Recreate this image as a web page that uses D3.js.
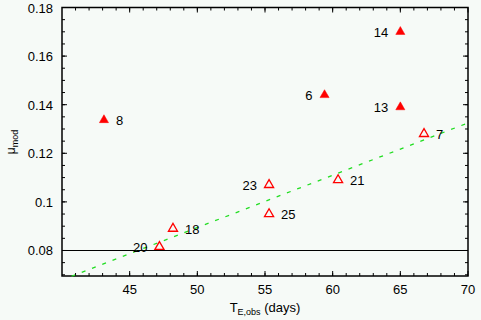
<!DOCTYPE html>
<html>
<head>
<meta charset="utf-8">
<script src="https://cdn.jsdelivr.net/npm/d3@7"></script>
<style>
  body { margin: 0; background: #f6faf7; }
  svg { display: block; font-family: "Liberation Sans", Arial, sans-serif; }
</style>
</head>
<body>
<svg width="481" height="320"></svg>
<script>
// event numbers and values
var filledIds = ['8', '14', '6', '13'];
var filledX   = [43.1, 65.0, 59.4, 65.0];
var filledY   = [0.1337, 0.170, 0.144, 0.139];

var openIds = ['7', '21', '23', '25', '18', '20'];
var openX   = [66.75, 60.4, 55.3, 55.3, 48.2, 47.2];
var openY   = [0.128, 0.109, 0.107, 0.095, 0.089, 0.0815];

// label on which side of the marker
var filledSide = ['right', 'left', 'left', 'left'];
var openSide   = ['right', 'right', 'left', 'right', 'right', 'left'];

// dashed fit line end points and the horizontal reference level
var fitX = [40.7, 70];
var fitY = [0.0694, 0.1325];
var refLevel = 0.08;

var xTicks = [45, 50, 55, 60, 65, 70];
var yTicks = [0.08, 0.1, 0.12, 0.14, 0.16, 0.18];

// plot box (note: 'top' is reserved on window, so use pl/pr/pt/pb)
var pl = 62, pr = 468, pt = 7.5, pb = 276;

var x = d3.scaleLinear().domain([40, 70]).range([pl, pr]);
var y = d3.scaleLinear().domain([0.0695, 0.18]).range([pb, pt]);

var svg = d3.select('svg');

// plot frame
svg.append('rect')
   .attr('x', pl).attr('y', pt)
   .attr('width', pr - pl).attr('height', pb - pt)
   .attr('fill', 'none')
   .attr('stroke', '#000')
   .attr('stroke-width', 1.5);

// inward ticks, mirrored on all four sides
var xMinor = d3.range(41, 70, 1);
var yMinor = d3.range(0.07, 0.1801, 0.005);

function tickSet(vals, len, isX) {
   vals.forEach(function(v) {
      if (isX) {
         var px = x(v);
         svg.append('line').attr('class', 'tk').attr('x1', px).attr('x2', px).attr('y1', pb).attr('y2', pb - len);
         svg.append('line').attr('class', 'tk').attr('x1', px).attr('x2', px).attr('y1', pt).attr('y2', pt + len);
      } else {
         var py = y(v);
         if (py > pb || py < pt) return;
         svg.append('line').attr('class', 'tk').attr('x1', pl).attr('x2', pl + len).attr('y1', py).attr('y2', py);
         svg.append('line').attr('class', 'tk').attr('x1', pr).attr('x2', pr - len).attr('y1', py).attr('y2', py);
      }
   });
}
tickSet(xMinor, 3, true);
tickSet(yMinor, 3, false);
tickSet(xTicks, 5, true);
tickSet(yTicks, 5, false);
svg.selectAll('.tk').attr('stroke', '#000').attr('stroke-width', 1);

// tick labels
svg.selectAll('.xl')
   .data(xTicks)
   .enter()
   .append('text')
     .attr('x', function(d){return x(d)})
     .attr('y', 294)
     .attr('text-anchor', 'middle')
     .style('font-size', '13px')
     .text(function(d){return d});

svg.selectAll('.yl')
   .data(yTicks)
   .enter()
   .append('text')
     .attr('x', 53)
     .attr('y', function(d){return y(d) + 5})
     .attr('text-anchor', 'end')
     .style('font-size', '13px')
     .text(function(d){return d});

// axis titles
var xt = svg.append('text')
   .attr('x', 265).attr('y', 312)
   .attr('text-anchor', 'middle')
   .style('font-size', '13px');
xt.append('tspan').text('T');
xt.append('tspan').attr('dy', 3).style('font-size', '9px').text('E,obs');
xt.append('tspan').attr('dy', -3).text(' (days)');

var yt = svg.append('text')
   .attr('transform', 'translate(15,142) rotate(-90)')
   .attr('text-anchor', 'middle')
   .style('font-size', '12px');
yt.append('tspan').text('μ');
yt.append('tspan').attr('dy', 3).style('font-size', '9px').text('mod');

// reference level and fit line
svg.append('line')
   .attr('x1', pl).attr('x2', pr)
   .attr('y1', y(refLevel)).attr('y2', y(refLevel))
   .attr('stroke', '#000').attr('stroke-width', 1.2);

svg.append('line')
   .attr('x1', x(fitX[0])).attr('y1', y(fitY[0]))
   .attr('x2', x(fitX[1])).attr('y2', y(fitY[1]))
   .attr('stroke', '#22dd22')
   .attr('stroke-width', 1.3)
   .attr('stroke-dasharray', '4,7');

// markers
var tri = d3.symbol().type(d3.symbolTriangle).size(36);

function drawPoints(ids, xs, ys, sides, filled) {
   ids.forEach(function(id, i) {
      var px = x(xs[i]), py = y(ys[i]);
      svg.append('path')
         .attr('d', tri())
         .attr('transform', 'translate(' + px + ',' + py + ')')
         .attr('fill', filled ? '#ff0000' : 'none')
         .attr('stroke', '#ff0000')
         .attr('stroke-width', filled ? 0.5 : 1.3);
      var isRight = sides[i] == 'right';
      svg.append('text')
         .attr('x', isRight ? px + 12 : px - 12)
         .attr('y', py + 5)
         .attr('text-anchor', isRight ? 'start' : 'end')
         .style('font-size', '13px')
         .text(id);
   });
}
drawPoints(filledIds, filledX, filledY, filledSide, true);
drawPoints(openIds, openX, openY, openSide, false);
</script>
</body>
</html>
